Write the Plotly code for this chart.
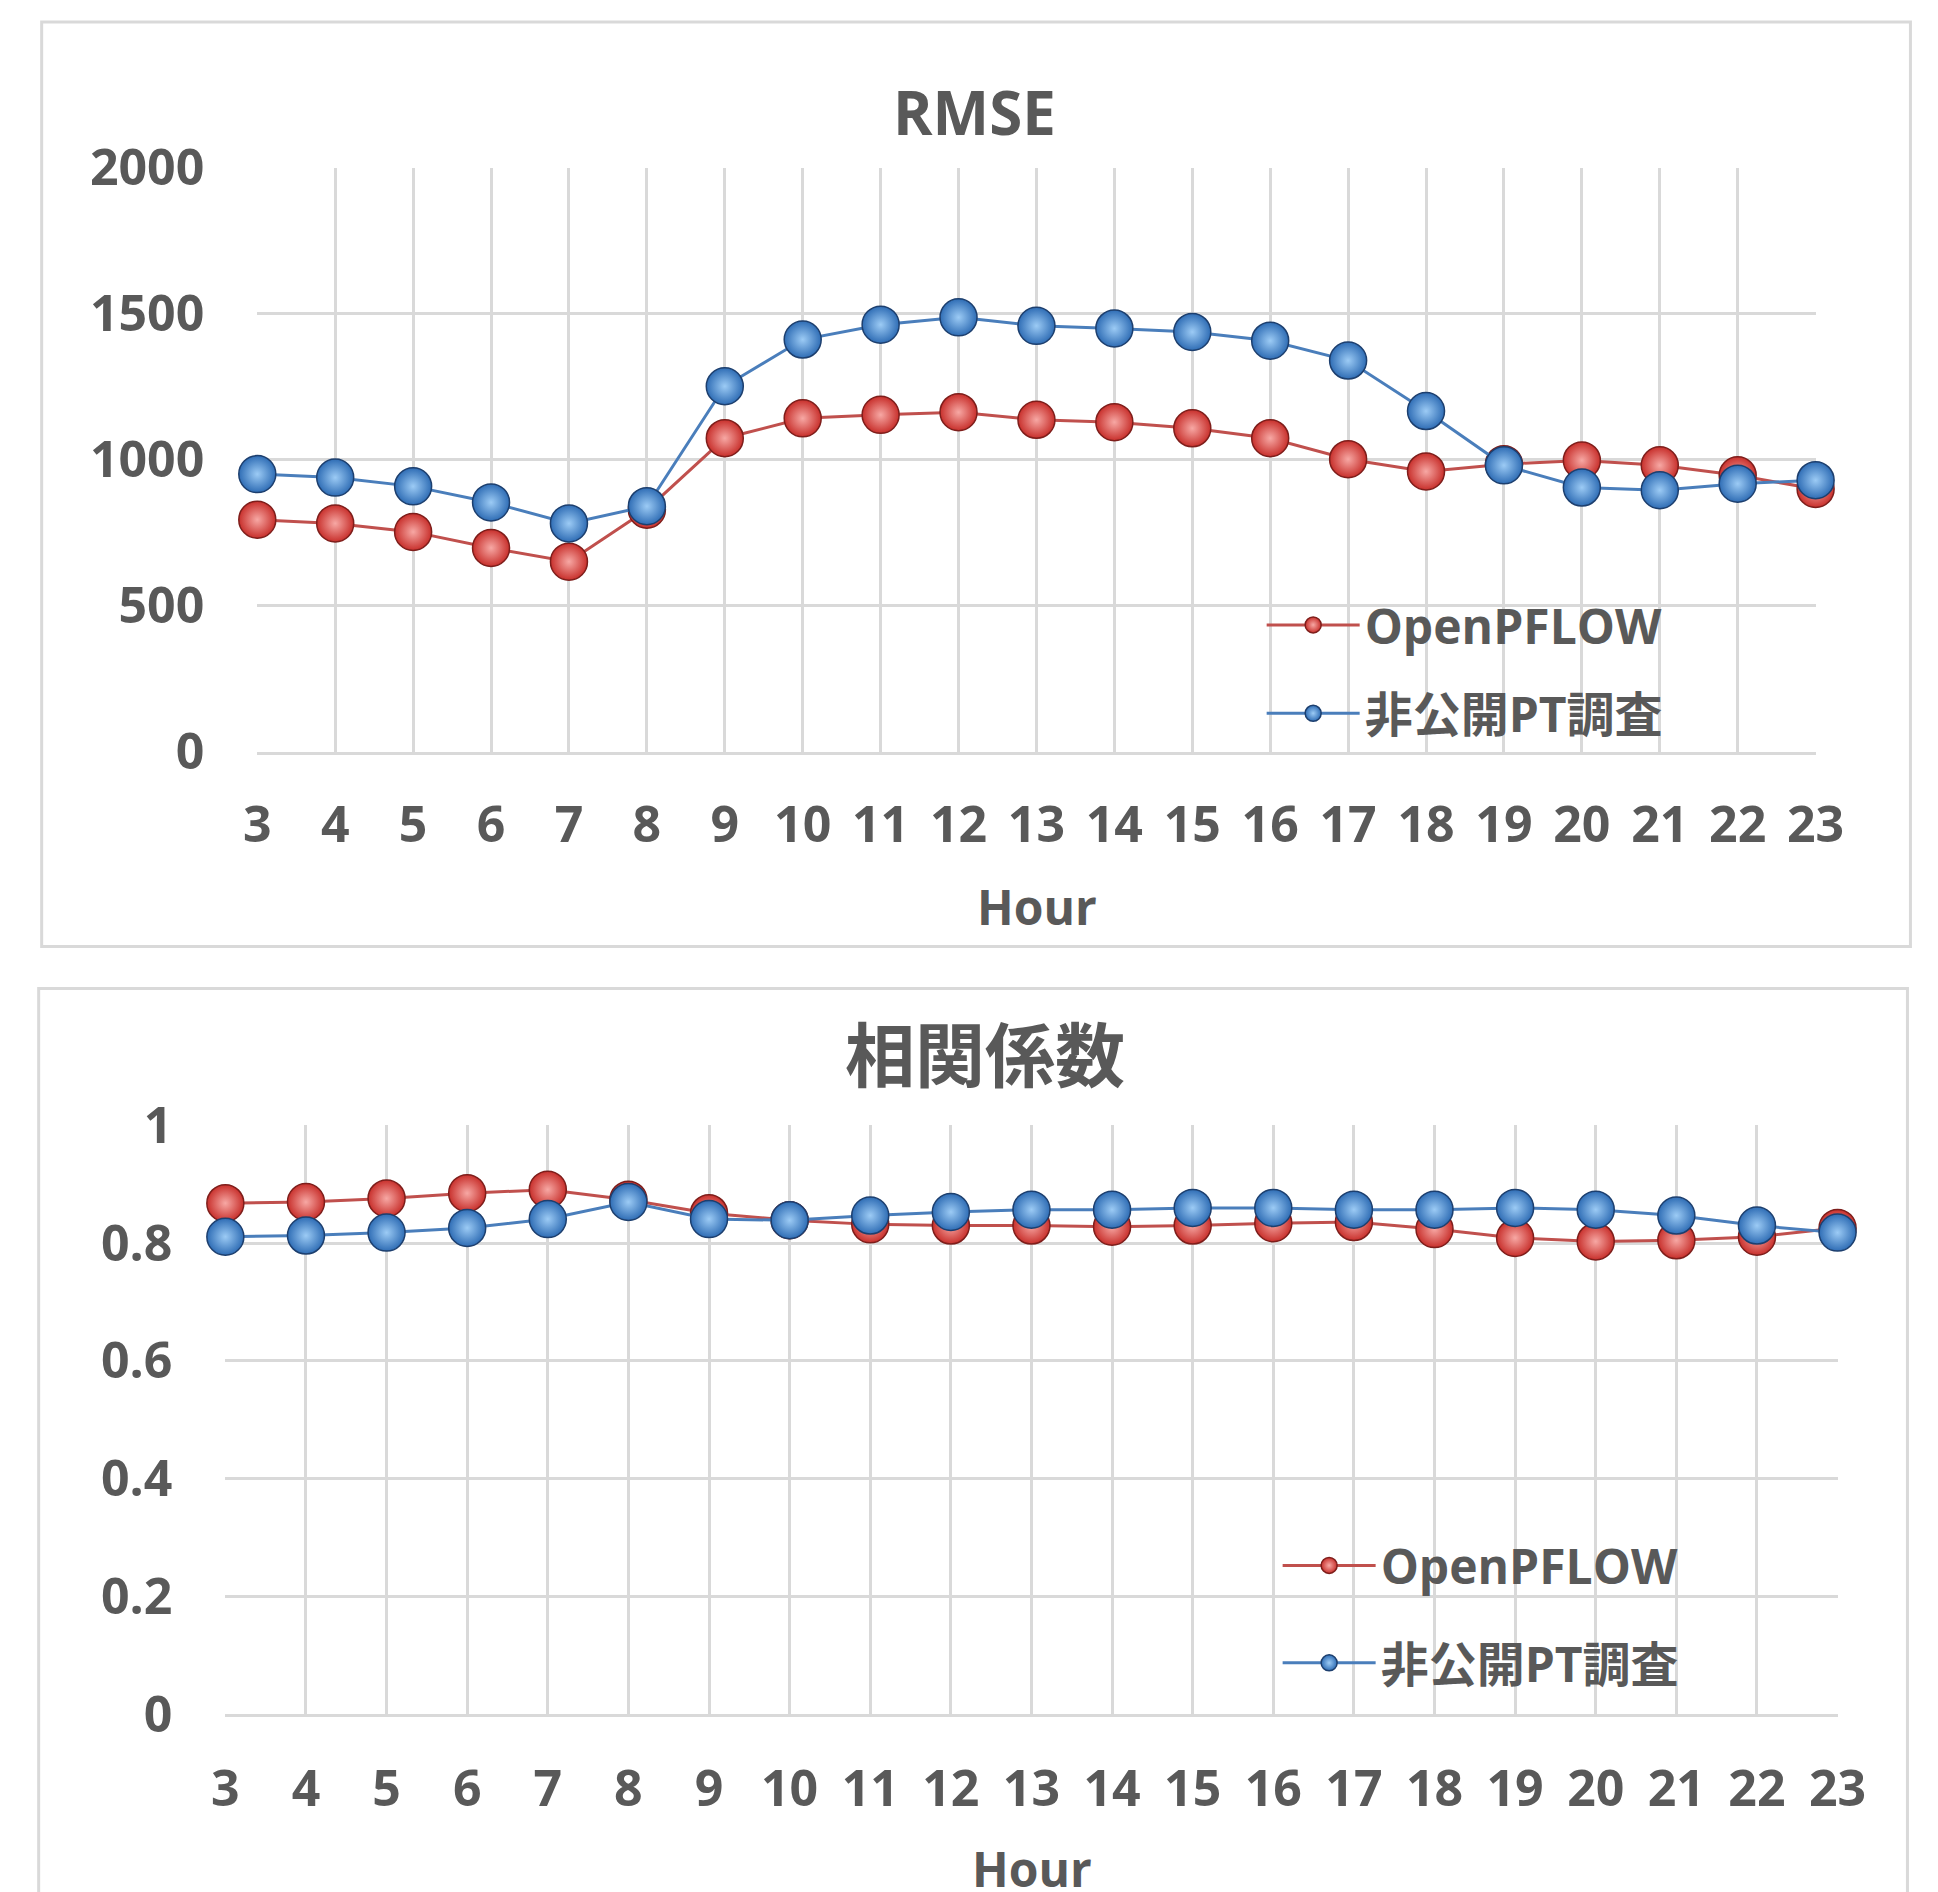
import plotly.graph_objects as go

hours = list(range(3, 24))
hour_labels = [str(h) for h in hours]

rmse_openpflow = [795, 782, 753, 698, 651, 829, 1074, 1142, 1154, 1163, 1137,
                  1129, 1108, 1074, 1002, 960, 985, 998, 981, 947, 900]
rmse_private = [951, 939, 909, 854, 782, 841, 1252, 1412, 1463, 1488, 1459,
                1450, 1438, 1408, 1340, 1167, 981, 905, 896, 918, 930]

corr_openpflow = [0.868, 0.870, 0.876, 0.885, 0.891, 0.874, 0.851, 0.839, 0.832, 0.830, 0.830,
                  0.828, 0.830, 0.834, 0.836, 0.824, 0.809, 0.803, 0.805, 0.811, 0.826]
corr_private = [0.811, 0.813, 0.818, 0.826, 0.841, 0.870, 0.841, 0.839, 0.847, 0.853, 0.857,
                0.857, 0.860, 0.860, 0.857, 0.857, 0.860, 0.857, 0.847, 0.830, 0.818]

series_names = ["OpenPFLOW", "非公開PT調査"]
rmse_title = "RMSE"
corr_title = "相関係数"
x_title = "Hour"

W, H = 1938, 1892
# observed page placement compensation (rendered = offset + scale * designed)
SX, OX = 0.9795, 21.3
SY, OY = 0.964, 43.0

FONT = "Open Sans, Noto Sans CJK JP, sans-serif"
TXT = "#595959"
GRID = "#D9D9D9"
RED_LINE, RED_FILL, RED_HI, RED_EDGE = "#C0504D", "#C8302C", "#F7A8A4", "#7E1E1B"
BLUE_LINE, BLUE_FILL, BLUE_HI, BLUE_EDGE = "#4A7EBB", "#2F6DB5", "#9CCBF5", "#1D3F6E"


def dx(rx):
    return (rx - OX) / SX


def dy(ry):
    return (ry - OY) / SY


def px(rx):
    return dx(rx) / W


def py(ry):
    return 1 - dy(ry) / H


fig = go.Figure()


def add_series(xa, ya, y, name, line, fill, hi, edge, legend, size):
    fig.add_trace(go.Scatter(
        x=hours, y=y, name=name, mode="lines+markers",
        xaxis=xa, yaxis=ya, legend=legend, legendgroup=legend + name,
        line=dict(color=line, width=3),
        marker=dict(size=size, color=fill, gradient=dict(type="radial", color=hi),
                    line=dict(color=edge, width=1.5)),
        cliponaxis=False,
    ))


add_series("x", "y", rmse_openpflow, series_names[0], RED_LINE, RED_FILL, RED_HI, RED_EDGE, "legend", 37)
add_series("x", "y", rmse_private, series_names[1], BLUE_LINE, BLUE_FILL, BLUE_HI, BLUE_EDGE, "legend", 37)
add_series("x2", "y2", corr_openpflow, series_names[0], RED_LINE, RED_FILL, RED_HI, RED_EDGE, "legend2", 37)
add_series("x2", "y2", corr_private, series_names[1], BLUE_LINE, BLUE_FILL, BLUE_HI, BLUE_EDGE, "legend2", 37)

axis_common = dict(
    showgrid=True, gridcolor=GRID, gridwidth=3, zeroline=False,
    tickfont=dict(family=FONT, size=50, color=TXT, weight="bold"),
    ticks="", fixedrange=True,
)

legend_font = dict(family=FONT, size=48, color=TXT, weight="bold")

fig.update_layout(
    width=W, height=H, margin=dict(l=0, r=0, t=0, b=0),
    paper_bgcolor="white", plot_bgcolor="white",
    font=dict(family=FONT, color=TXT),
    xaxis=dict(domain=[px(257), px(1818)], anchor="y", range=[3, 23], tickmode="array",
               tickvals=hours, ticktext=hour_labels, showline=True, linecolor=GRID, linewidth=3,
               ticklabelstandoff=27, **axis_common),
    yaxis=dict(domain=[py(751), py(167)], anchor="x", range=[0, 2000], dtick=500,
               showline=False, ticklabelstandoff=52, **axis_common),
    xaxis2=dict(domain=[px(225), px(1840)], anchor="y2", range=[3, 23], tickmode="array",
                tickvals=hours, ticktext=hour_labels, showline=True, linecolor=GRID, linewidth=3,
                ticklabelstandoff=29, **axis_common),
    yaxis2=dict(domain=[py(1714), py(1125)], anchor="x2", range=[0, 1], dtick=0.2,
                showline=False, ticklabelstandoff=52, **axis_common),
    legend=dict(x=(dx(1268) - 5) / W, y=1 - (dy(625) - 40) / H, xanchor="left", yanchor="top",
                font=legend_font, bgcolor="rgba(0,0,0,0)", tracegroupgap=23, itemwidth=93),
    legend2=dict(x=(dx(1284) - 5) / W, y=1 - (dy(1566) - 40) / H, xanchor="left", yanchor="top",
                 font=legend_font, bgcolor="rgba(0,0,0,0)", tracegroupgap=32, itemwidth=93),
    shapes=[
        dict(type="rect", xref="paper", yref="paper", x0=px(41), x1=px(1913), y0=py(946), y1=py(21),
             line=dict(color=GRID, width=3), layer="below"),
        dict(type="rect", xref="paper", yref="paper", x0=px(38), x1=px(1910), y0=py(1960), y1=py(988),
             line=dict(color=GRID, width=3), layer="below"),
    ],
    annotations=[
        dict(text=rmse_title, xref="paper", yref="paper", x=px(975), y=py(111), showarrow=False,
             font=dict(family=FONT, size=60, color=TXT, weight="bold"), xanchor="center", yanchor="middle"),
        dict(text=corr_title, xref="paper", yref="paper", x=px(986), y=py(1054), showarrow=False,
             font=dict(family=FONT, size=70, color=TXT, weight="bold"), xanchor="center", yanchor="middle"),
        dict(text=x_title, xref="paper", yref="paper", x=px(1038), y=py(906), showarrow=False,
             font=dict(family=FONT, size=48, color=TXT, weight="bold"), xanchor="center", yanchor="middle"),
        dict(text=x_title, xref="paper", yref="paper", x=px(1033), y=py(1868), showarrow=False,
             font=dict(family=FONT, size=48, color=TXT, weight="bold"), xanchor="center", yanchor="middle"),
    ],
)

fig.write_html("out.html")
